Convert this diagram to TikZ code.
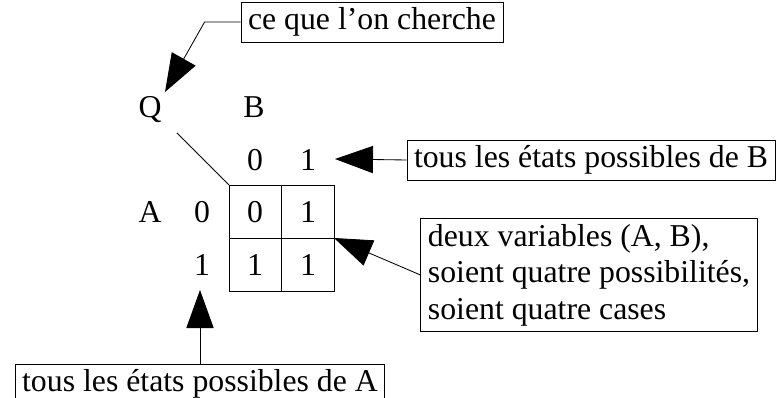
\documentclass[tikz,border=0pt]{standalone}
\usepackage{fontspec}
\setmainfont{Liberation Serif}
\usetikzlibrary{arrows.meta,positioning}

\begin{document}
\begin{tikzpicture}[x=0.025cm,y=-0.025cm,
  font=\fontsize{22.6}{26}\selectfont,
  every path/.style={line width=0.6pt},
  comment/.style={draw,inner xsep=5pt,inner ysep=4pt},
  pointer/.style={-{Triangle[length=0.95cm,width=0.68cm]}},
  lbl/.style={anchor=base,inner sep=0pt}]
\useasboundingbox (0,0) rectangle (779,398);
% tableau
\draw (229,185) coordinate(tl) rectangle (334,291) coordinate(br);
\draw (281.5,185) -- (281.5,291);
\draw (229,238) -- (334,238) coordinate(mr);
\node[lbl] (c00) at (255,223) {0};
\node[lbl] (c01) at (308,223) {1};
\node[lbl] (c10) at (255,276) {1};
\node[lbl] (c11) at (308,276) {1};
% variables
\node[lbl] (q) at (150,118) {Q};
\node[lbl] (b) at (254,118) {B};
\node[lbl] (b0) at (255,171) {0};
\node[lbl] (b1) at (308,171) {1};
\node[lbl] (a) at (150,223) {A};
\node[lbl] (a0) at (202,223) {0};
\node[lbl] (a1) at (202,276) {1};
\coordinate (qd) at (177,133);
\draw (qd) -- (tl);
% commentaires
\node[comment] (cherche) at (372,22) {ce que l'on cherche};
\node[comment] (etatsB) at (591,160) {tous les états possibles de B};
\node[comment] (etatsA) at (200,384) {tous les états possibles de A};
\node[comment,align=left] (cases) at (589,275) {deux variables (A, B),\\soient quatre possibilités,\\soient quatre cases};
\coordinate (qtip) at (165,92);
\coordinate (btip) at (335,159);
\coordinate (atip) at (200,290);
\draw[pointer] (cherche.west) -- ++(-36,0) -- (qtip);
\draw[pointer] (etatsB.west) -- (btip);
\draw[pointer] (etatsA.north) -- (atip);
\draw[pointer] (cases.west) -- (mr);
\end{tikzpicture}
\end{document}
